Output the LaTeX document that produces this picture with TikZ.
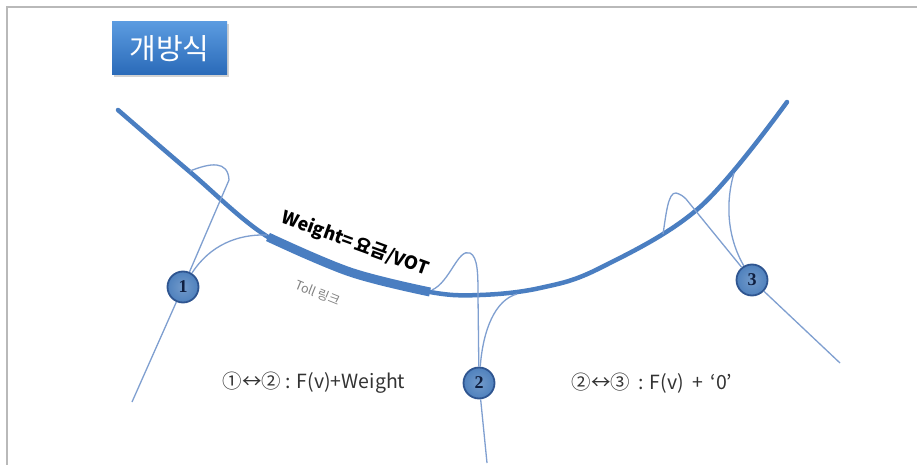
\documentclass[tikz,border=0pt]{standalone}
\usepackage{fontspec}
\setmainfont{Noto Sans CJK KR}
\newfontfamily\kr{Noto Sans CJK KR}
\newfontfamily\numfont{Liberation Serif}
\usetikzlibrary{shadows}
\definecolor{mainblue}{HTML}{4A7EC1}
\definecolor{thinblue}{HTML}{7F9FD0}
\definecolor{circfill}{HTML}{4F81BD}
\definecolor{circedge}{HTML}{2F5590}
\definecolor{navy}{HTML}{0F1F40}
\definecolor{boxtop}{HTML}{5B9BE0}
\definecolor{boxbot}{HTML}{2A6AB8}
\definecolor{txtgray}{HTML}{333333}
\tikzset{
  mainline/.style={draw=mainblue, line width=4.5pt, line cap=round},
  tollpart/.style={draw=mainblue, line width=9pt},
  ramp/.style={draw=thinblue, line width=1.3pt},
  station/.style={circle, draw=circedge, line width=1.8pt, inner sep=0pt, minimum size=31pt,
     inner color=circfill!80!white, outer color=circfill, text=navy,
     font=\fontsize{18}{18}\selectfont\numfont\bfseries},
  titlebox/.style={draw=none, top color=boxtop, bottom color=boxbot, text=white,
     minimum width=115pt, minimum height=53pt, inner sep=0pt,
     drop shadow={shadow xshift=2pt, shadow yshift=-2pt, opacity=0.35},
     font=\fontsize{29}{29}\selectfont\kr},
  eqtext/.style={text=txtgray, font=\fontsize{19.5}{20}\selectfont\kr, inner sep=0pt},
}
\begin{document}
\begin{tikzpicture}[x=1pt,y=-1pt]
\useasboundingbox (0,0) rectangle (917,465);
\fill[white] (0,0) rectangle (917,465);
% frame (top and left)
\draw[gray!55, line width=2pt] (7,470) -- (7,7) -- (925,7);

% title
\node[titlebox] (title) at (169.5,48.5) {개방식};

% main road
\draw[mainline] plot[smooth, tension=0.6] coordinates {(118,110) (190,172) (268,237) (350,272) (430,292) (480,295) (540,288) (600,268) (700,207) (787,102)};
\draw[tollpart] plot[smooth, tension=0.6] coordinates {(268,237) (350,272) (430,292)};

% stations
\node[station] (n1) at (183,287) {1};
\node[station] (n2) at (479,383) {2};
\node[station] (n3) at (752,280) {3};

% points on the road and free ends
\coordinate (r1a) at (190,171);
\coordinate (r1b) at (267,235);
\coordinate (r2a) at (432,290);
\coordinate (r2b) at (517,294);
\coordinate (r3a) at (663,234);
\coordinate (r3b) at (734,173);
\coordinate (s1) at (132,402);
\coordinate (s2) at (487,463);
\coordinate (s3) at (840,363);

% ramps
\draw[ramp] (r1a) .. controls (210,163) and (228,160) .. (229,180) -- (n1);
\draw[ramp] (n1) .. controls (210,245) and (238,234) .. (r1b);
\draw[ramp] (n1) -- (s1);

\draw[ramp] (r2a) .. controls (450,282) and (458,248) .. (470,253) .. controls (478,257) and (478,275) .. (478,296) -- (n2);
\draw[ramp] (n2) .. controls (483,330) and (495,300) .. (r2b);
\draw[ramp] (n2) -- (s2);

\draw[ramp] (r3a) .. controls (666,215) and (668,192) .. (676,193) .. controls (680,194) and (683,196) .. (686,199) -- (n3);
\draw[ramp] (n3) .. controls (726,235) and (726,200) .. (r3b);
\draw[ramp] (n3) -- (s3);

% labels
\node[rotate=-20, inner sep=0pt, font=\fontsize{18}{18}\selectfont\kr\bfseries] (wlab) at (355,244) {Weight=\,요금/VOT};
\node[rotate=-22, inner sep=0pt, text=gray, font=\fontsize{12.5}{13}\selectfont\kr] (toll) at (318,293) {Toll 링크};

\node[eqtext] (eq1) at (314,383) {①↔② : F(v)+Weight};
\node[eqtext] (eq2) at (652,383) {②↔③\hspace{4pt} : F(v)\hspace{9pt}+\hspace{7pt}‘0’};
\end{tikzpicture}
\end{document}
